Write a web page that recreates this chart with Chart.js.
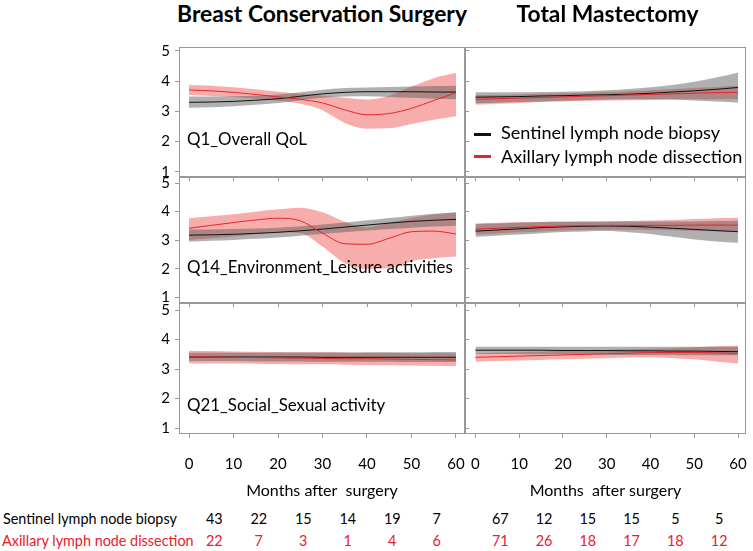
<!DOCTYPE html>
<html><head><meta charset="utf-8">
<script src="https://cdn.jsdelivr.net/npm/chart.js@4.4.1/dist/chart.umd.min.js"></script>
<style>
html,body{margin:0;padding:0;background:#fff;}
body{position:relative;width:753px;height:551px;overflow:hidden;font-family:Lato,"Open Sans",sans-serif;}
canvas{position:absolute;}
.t{position:absolute;white-space:pre;line-height:1;color:#000;}
.k{position:absolute;}
</style></head><body>
<script>
// ---------- data ----------
const months = [0,5,10,15,20,25,30,35,40,45,50,55,60];
const xTickValues = [0,10,20,30,40,50,60];
const yTickValues = [1,2,3,4,5];
const colTitles = ['Breast Conservation Surgery','Total Mastectomy'];
const rowLabels = ['Q1_Overall QoL','Q14_Environment_Leisure activities','Q21_Social_Sexual activity'];
const xTitles = ['Months after  surgery','Months  after surgery'];
const seriesNames = ['Sentinel lymph node biopsy','Axillary lymph node dissection'];

// Breast conservation surgery, Q1
const bcsQ1_slnb   = [3.30,3.31,3.33,3.37,3.42,3.50,3.58,3.63,3.65,3.65,3.65,3.64,3.64];
const bcsQ1_slnbLo = [3.12,3.14,3.17,3.22,3.28,3.37,3.45,3.49,3.50,3.48,3.45,3.42,3.40];
const bcsQ1_slnbHi = [3.49,3.49,3.50,3.52,3.56,3.63,3.72,3.77,3.79,3.81,3.82,3.84,3.85];
const bcsQ1_alnd   = [3.71,3.68,3.63,3.56,3.48,3.40,3.28,3.05,2.89,2.93,3.10,3.36,3.62];
const bcsQ1_alndLo = [3.54,3.51,3.48,3.42,3.35,3.25,3.04,2.62,2.43,2.44,2.58,2.72,2.84];
const bcsQ1_alndHi = [3.87,3.85,3.80,3.73,3.65,3.58,3.52,3.45,3.39,3.52,3.82,4.10,4.28];
// Total mastectomy, Q1
const tmQ1_slnb    = [3.47,3.48,3.49,3.51,3.52,3.54,3.55,3.57,3.60,3.64,3.68,3.73,3.79];
const tmQ1_slnbLo  = [3.27,3.29,3.31,3.33,3.35,3.37,3.39,3.40,3.40,3.39,3.36,3.33,3.29];
const tmQ1_slnbHi  = [3.63,3.63,3.63,3.64,3.65,3.67,3.70,3.74,3.80,3.87,3.98,4.12,4.29];
const tmQ1_alnd    = [3.40,3.42,3.44,3.46,3.48,3.50,3.52,3.54,3.56,3.58,3.60,3.62,3.63];
const tmQ1_alndLo  = [3.22,3.25,3.28,3.31,3.33,3.35,3.36,3.37,3.38,3.39,3.40,3.40,3.40];
const tmQ1_alndHi  = [3.54,3.55,3.56,3.58,3.60,3.62,3.64,3.67,3.70,3.73,3.77,3.81,3.85];
// Breast conservation surgery, Q14
const bcsQ14_slnb   = [3.18,3.19,3.21,3.24,3.28,3.33,3.39,3.46,3.53,3.60,3.66,3.70,3.73];
const bcsQ14_slnbLo = [2.95,2.98,3.01,3.05,3.10,3.16,3.22,3.28,3.34,3.39,3.44,3.48,3.51];
const bcsQ14_slnbHi = [3.38,3.38,3.39,3.41,3.44,3.49,3.55,3.62,3.70,3.78,3.86,3.93,3.98];
const bcsQ14_alnd   = [3.42,3.52,3.62,3.71,3.77,3.68,3.25,2.88,2.86,3.07,3.30,3.32,3.22];
const bcsQ14_alndLo = [3.01,3.07,3.13,3.21,3.28,3.25,2.78,2.20,2.00,2.03,2.27,2.37,2.43];
const bcsQ14_alndHi = [3.77,3.84,3.91,4.00,4.08,4.14,3.98,3.65,3.45,3.62,3.78,3.90,3.96];
// Total mastectomy, Q14
const tmQ14_slnb    = [3.32,3.36,3.40,3.44,3.47,3.49,3.50,3.49,3.46,3.42,3.38,3.34,3.30];
const tmQ14_slnbLo  = [3.12,3.16,3.20,3.25,3.29,3.31,3.32,3.28,3.22,3.12,3.03,2.96,2.91];
const tmQ14_slnbHi  = [3.57,3.59,3.62,3.64,3.65,3.66,3.66,3.66,3.66,3.66,3.66,3.67,3.68];
const tmQ14_alnd    = [3.39,3.42,3.45,3.48,3.50,3.51,3.52,3.52,3.52,3.52,3.53,3.53,3.53];
const tmQ14_alndLo  = [3.20,3.24,3.28,3.31,3.34,3.36,3.37,3.37,3.36,3.35,3.33,3.31,3.30];
const tmQ14_alndHi  = [3.59,3.61,3.63,3.64,3.65,3.65,3.66,3.67,3.69,3.71,3.74,3.77,3.79];
// Breast conservation surgery, Q21
const bcsQ21_slnb   = [3.41,3.41,3.41,3.41,3.41,3.41,3.40,3.40,3.40,3.40,3.40,3.40,3.40];
const bcsQ21_slnbLo = [3.27,3.27,3.27,3.26,3.26,3.26,3.25,3.25,3.25,3.25,3.24,3.24,3.24];
const bcsQ21_slnbHi = [3.55,3.55,3.55,3.55,3.56,3.56,3.56,3.56,3.57,3.57,3.57,3.58,3.58];
const bcsQ21_alnd   = [3.42,3.41,3.40,3.39,3.38,3.37,3.36,3.35,3.35,3.34,3.33,3.32,3.31];
const bcsQ21_alndLo = [3.20,3.19,3.19,3.18,3.17,3.16,3.16,3.15,3.14,3.13,3.12,3.11,3.10];
const bcsQ21_alndHi = [3.62,3.61,3.60,3.59,3.58,3.57,3.57,3.56,3.55,3.55,3.54,3.54,3.53];
// Total mastectomy, Q21
const tmQ21_slnb    = [3.64,3.64,3.64,3.64,3.63,3.63,3.63,3.62,3.62,3.61,3.61,3.60,3.59];
const tmQ21_slnbLo  = [3.51,3.51,3.51,3.50,3.50,3.49,3.49,3.48,3.48,3.48,3.47,3.47,3.47];
const tmQ21_slnbHi  = [3.76,3.76,3.76,3.76,3.76,3.76,3.76,3.76,3.76,3.76,3.76,3.76,3.76];
const tmQ21_alnd    = [3.40,3.42,3.44,3.46,3.48,3.50,3.52,3.54,3.56,3.56,3.56,3.55,3.53];
const tmQ21_alndLo  = [3.25,3.27,3.29,3.31,3.33,3.35,3.37,3.39,3.40,3.38,3.33,3.26,3.19];
const tmQ21_alndHi  = [3.53,3.55,3.57,3.59,3.61,3.63,3.65,3.67,3.69,3.71,3.74,3.77,3.79];

// numbers at risk
const riskMonths = [5,15,25,35,45,55];
const bcsAtRiskSLNB = [43,22,15,14,19,7];
const bcsAtRiskALND = [22,7,3,1,4,6];
const tmAtRiskSLNB  = [67,12,15,15,5,5];
const tmAtRiskALND  = [71,26,18,17,18,12];

// ---------- styles / layout ----------
const BLACK = '#111111', RED = '#e3262b', TABLE_RED = '#e8202a';
const GRAY_BAND = 'rgba(90,90,90,0.48)', RED_BAND = 'rgba(238,60,60,0.42)';
const AXIS_GRAY = '#999999';
const FONT = 'Lato';
Chart.defaults.font.family = FONT;

const cols = [
  {x0:179, x1:465, xmin:-2.25, xmax:62.02},
  {x0:465, x1:746, xmin:-2.4,  xmax:61.83}
];
const rows = [
  {y0:47,  y1:177, ymin:0.83, ymax:5.13},
  {y0:177, y1:303, ymin:0.81, ymax:5.21},
  {y0:303, y1:434, ymin:0.80, ymax:5.24}
];

const panels = [
  {c:0,r:0, s:bcsQ1_slnb, sLo:bcsQ1_slnbLo, sHi:bcsQ1_slnbHi, a:bcsQ1_alnd, aLo:bcsQ1_alndLo, aHi:bcsQ1_alndHi},
  {c:1,r:0, s:tmQ1_slnb,  sLo:tmQ1_slnbLo,  sHi:tmQ1_slnbHi,  a:tmQ1_alnd,  aLo:tmQ1_alndLo,  aHi:tmQ1_alndHi},
  {c:0,r:1, s:bcsQ14_slnb, sLo:bcsQ14_slnbLo, sHi:bcsQ14_slnbHi, a:bcsQ14_alnd, aLo:bcsQ14_alndLo, aHi:bcsQ14_alndHi},
  {c:1,r:1, s:tmQ14_slnb,  sLo:tmQ14_slnbLo,  sHi:tmQ14_slnbHi,  a:tmQ14_alnd,  aLo:tmQ14_alndLo,  aHi:tmQ14_alndHi},
  {c:0,r:2, s:bcsQ21_slnb, sLo:bcsQ21_slnbLo, sHi:bcsQ21_slnbHi, a:bcsQ21_alnd, aLo:bcsQ21_alndLo, aHi:bcsQ21_alndHi},
  {c:1,r:2, s:tmQ21_slnb,  sLo:tmQ21_slnbLo,  sHi:tmQ21_slnbHi,  a:tmQ21_alnd,  aLo:tmQ21_alndLo,  aHi:tmQ21_alndHi}
];

function pts(arr){ return months.map((m,i)=>({x:m, y:arr[i]})); }

const frame = {
  id:'frame',
  afterDatasetsDraw(chart){
    const {ctx, chartArea:a} = chart;
    ctx.save();
    ctx.strokeStyle = AXIS_GRAY; ctx.lineWidth = 1;
    ctx.strokeRect(Math.round(a.left)+0.5, Math.round(a.top)+0.5,
                   Math.round(a.right-a.left)-1, Math.round(a.bottom-a.top)-1);
    ctx.restore();
  }
};

function makeConfig(p){
  const col = cols[p.c], row = rows[p.r];
  const bottom = p.r===2;
  const B = bottom ? 70 : 10;
  const setTicks = vals => scale => { scale.ticks = vals.map(v=>({value:v})); };
  const scales = {
    x: {
      type:'linear', position:'bottom', min:col.xmin, max:col.xmax,
      afterFit: s => { s.height = B; },
      afterBuildTicks: setTicks(xTickValues),
      grid:{drawOnChartArea:false, drawTicks:true, tickLength:4, color:AXIS_GRAY},
      border:{display:false},
      ticks:{display:bottom, autoSkip:false, maxRotation:0, padding:17, color:'#000', font:{size:15}},
      title:{display:bottom, text:xTitles[p.c], color:'#000', font:{size:16}, padding:{top:0,bottom:4}}
    },
    y: {
      type:'linear', position:'left', min:row.ymin, max:row.ymax, display:p.c===0,
      afterFit: s => { s.width = p.c===0 ? 50 : 0; },
      afterBuildTicks: setTicks(yTickValues),
      grid:{drawOnChartArea:false, drawTicks:true, tickLength:4, color:AXIS_GRAY},
      border:{display:false},
      ticks:{padding:5, color:'#000', font:{size:15}}
    }
  };
  if (p.c===0) {
    scales.y2 = {
      type:'linear', position:'right', min:row.ymin, max:row.ymax,
      afterFit: s => { s.width = 10; },
      afterBuildTicks: setTicks(yTickValues),
      grid:{drawOnChartArea:false, drawTicks:true, tickLength:4, color:AXIS_GRAY},
      border:{display:false},
      ticks:{display:false}
    };
  }
  const band = {borderWidth:0, borderColor:'rgba(0,0,0,0)', pointRadius:0, pointHoverRadius:0};
  return {
    type:'line',
    data:{datasets:[
      Object.assign({label:seriesNames[1]+' lower', data:pts(p.aLo), fill:false, order:6}, band),
      Object.assign({label:seriesNames[1]+' upper', data:pts(p.aHi), fill:'-1', backgroundColor:RED_BAND, order:5}, band),
      Object.assign({label:seriesNames[0]+' lower', data:pts(p.sLo), fill:false, order:4}, band),
      Object.assign({label:seriesNames[0]+' upper', data:pts(p.sHi), fill:'-1', backgroundColor:GRAY_BAND, order:3}, band),
      {label:seriesNames[0], data:pts(p.s), borderColor:BLACK, borderWidth:1, pointRadius:0, fill:false, order:2},
      {label:seriesNames[1], data:pts(p.a), borderColor:RED, borderWidth:1, pointRadius:0, fill:false, order:1}
    ]},
    options:{
      responsive:false, animation:false, devicePixelRatio:1,
      layout:{padding:{left:p.c===0?0:10, right:p.c===0?0:10, top:10, bottom:0}},
      datasets:{line:{cubicInterpolationMode:'monotone'}},
      plugins:{legend:{display:false}, tooltip:{enabled:false}},
      events:[],
      scales
    },
    plugins:[frame]
  };
}

// build each panel, then re-fit the canvas so the plot area lands exactly on the panel box
const charts = [];
panels.forEach(p=>{
  const col = cols[p.c], row = rows[p.r];
  const pw = col.x1-col.x0, ph = row.y1-row.y0;
  let eL = p.c===0 ? 50 : 10, eR = 10, eT = 10, eB = p.r===2 ? 70 : 10;
  const cv = document.createElement('canvas');
  document.body.appendChild(cv);
  let chart = null, cl = 0, ct = 0;
  for (let it=0; it<5; it++) {
    if (chart) chart.destroy();
    const w = Math.round(eL + pw + eR), h = Math.round(eT + ph + eB);
    cl = col.x0 - eL; ct = row.y0 - eT;
    cv.width = w; cv.height = h;
    cv.style.left = cl+'px'; cv.style.top = ct+'px';
    cv.style.width = w+'px'; cv.style.height = h+'px';
    chart = new Chart(cv, makeConfig(p));
    const a = chart.chartArea;
    const nL = Math.round(a.left), nT = Math.round(a.top);
    const nR = Math.round(w - a.right), nB = Math.round(h - a.bottom);
    const ok = nL===eL && nT===eT && Math.round(a.right-a.left)===pw && Math.round(a.bottom-a.top)===ph;
    if (ok) break;
    eL = nL; eT = nT; eR = nR; eB = nB;
  }
  charts.push({chart, p, left:cl, top:ct});
});

// ---------- text ----------
const mctx = document.createElement('canvas').getContext('2d');
function fitSize(str, width, bold){
  mctx.font = (bold?'700 ':'')+'100px '+FONT;
  return 100*width/mctx.measureText(str).width;
}
function addText(str, x, baseline, size, align, color, bold){
  const d = document.createElement('div');
  d.className = 't'; d.textContent = str;
  d.style.fontSize = size+'px';
  d.style.fontFamily = FONT;
  if (bold) d.style.fontWeight = '700';
  d.style.color = color || '#000';
  document.body.appendChild(d);
  const w = d.getBoundingClientRect().width;
  const left = align==='center' ? x-w/2 : align==='right' ? x-w : x;
  d.style.left = left+'px';
  d.style.top = (baseline - 0.887*size)+'px';
  return d;
}
function addKey(x, y, w, h, color){
  const d = document.createElement('div');
  d.className='k';
  Object.assign(d.style,{left:x+'px', top:y+'px', width:w+'px', height:h+'px', background:color});
  document.body.appendChild(d);
}

// column titles
const titleSize = fitSize(colTitles[0], 290, true);
addText(colTitles[0], (cols[0].x0+cols[0].x1)/2, 22, titleSize, 'center', '#000', true);
addText(colTitles[1], (cols[1].x0+cols[1].x1)/2+2, 22, titleSize, 'center', '#000', true);

// panel labels
const labelSize = fitSize(rowLabels[1], 266, false);
const labelBaselines = [146, 274, 412];
rowLabels.forEach((s,i)=> addText(s, 187, labelBaselines[i], labelSize, 'left'));

// legend
const legSize = fitSize(seriesNames[1], 242, false);
addKey(474, 133, 17, 3, BLACK);
addKey(474, 155, 17, 3, RED);
addText(seriesNames[0], 501, 139.5, legSize, 'left');
addText(seriesNames[1], 501, 163, legSize, 'left');

// numbers at risk table
const tabSize = fitSize(seriesNames[1], 192, false);
addText(seriesNames[0], 3, 525, tabSize, 'left');
addText(seriesNames[1], 2, 547, tabSize, 'left', TABLE_RED);
charts.filter(o=>o.p.r===2).forEach(o=>{
  const sx = o.chart.scales.x;
  const sl = o.p.c===0 ? bcsAtRiskSLNB : tmAtRiskSLNB;
  const al = o.p.c===0 ? bcsAtRiskALND : tmAtRiskALND;
  riskMonths.forEach((m,i)=>{
    const px = o.left + sx.getPixelForValue(m) + 3;
    addText(String(sl[i]), px, 525, tabSize, 'center');
    addText(String(al[i]), px, 547, tabSize, 'center', TABLE_RED);
  });
});
</script>
</body></html>
